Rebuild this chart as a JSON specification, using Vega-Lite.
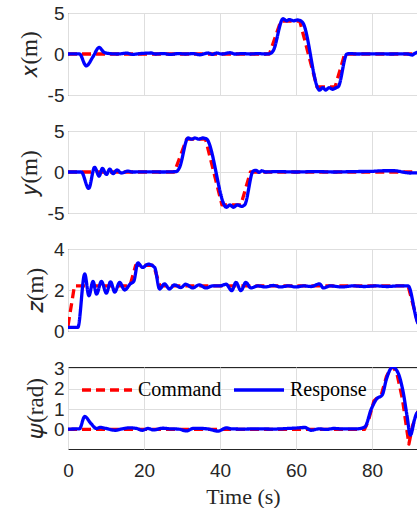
{
  "$schema": "https://vega.github.io/schema/vega-lite/v6.json",
  "autosize": {"type": "pad"},
  "padding": {"left": 17, "top": 3, "right": 0, "bottom": 0},
  "background": "white",
  "data": {
    "values": [
      {"p": "x", "s": "Command", "t": 0, "v": 0}, {"p": "x", "s": "Command", "t": 53, "v": 0}, {"p": "x", "s": "Command", "t": 56, "v": 4},
      {"p": "x", "s": "Command", "t": 61, "v": 4}, {"p": "x", "s": "Command", "t": 65.5, "v": -4}, {"p": "x", "s": "Command", "t": 70.3, "v": -4},
      {"p": "x", "s": "Command", "t": 72.8, "v": 0}, {"p": "x", "s": "Command", "t": 92.1, "v": 0},

      {"p": "x", "s": "Response", "t": 0, "v": 0}, {"p": "x", "s": "Response", "t": 3, "v": 0.02}, {"p": "x", "s": "Response", "t": 4.8, "v": -1.45},
      {"p": "x", "s": "Response", "t": 6.5, "v": -0.4}, {"p": "x", "s": "Response", "t": 8.2, "v": 0.8}, {"p": "x", "s": "Response", "t": 9.5, "v": 0.2},
      {"p": "x", "s": "Response", "t": 11, "v": 0.05}, {"p": "x", "s": "Response", "t": 13, "v": 0}, {"p": "x", "s": "Response", "t": 15.4, "v": 0.1},
      {"p": "x", "s": "Response", "t": 17, "v": -0.05}, {"p": "x", "s": "Response", "t": 19, "v": 0.05}, {"p": "x", "s": "Response", "t": 21.9, "v": 0.12},
      {"p": "x", "s": "Response", "t": 23, "v": 0}, {"p": "x", "s": "Response", "t": 25, "v": 0.05}, {"p": "x", "s": "Response", "t": 27, "v": -0.05},
      {"p": "x", "s": "Response", "t": 29, "v": 0.05}, {"p": "x", "s": "Response", "t": 31, "v": 0}, {"p": "x", "s": "Response", "t": 33, "v": 0.05},
      {"p": "x", "s": "Response", "t": 34.7, "v": -0.1}, {"p": "x", "s": "Response", "t": 36, "v": 0.05}, {"p": "x", "s": "Response", "t": 36.9, "v": 0.12},
      {"p": "x", "s": "Response", "t": 38, "v": -0.05}, {"p": "x", "s": "Response", "t": 39.1, "v": 0.12}, {"p": "x", "s": "Response", "t": 40.5, "v": 0},
      {"p": "x", "s": "Response", "t": 42.6, "v": 0.15}, {"p": "x", "s": "Response", "t": 44, "v": 0}, {"p": "x", "s": "Response", "t": 46, "v": 0.05},
      {"p": "x", "s": "Response", "t": 48, "v": 0}, {"p": "x", "s": "Response", "t": 50, "v": 0.05}, {"p": "x", "s": "Response", "t": 52, "v": 0},
      {"p": "x", "s": "Response", "t": 53.1, "v": 0.05}, {"p": "x", "s": "Response", "t": 54, "v": 0.4}, {"p": "x", "s": "Response", "t": 56.6, "v": 4.3},
      {"p": "x", "s": "Response", "t": 57.5, "v": 4.05}, {"p": "x", "s": "Response", "t": 58.3, "v": 4.2}, {"p": "x", "s": "Response", "t": 59.3, "v": 4.05},
      {"p": "x", "s": "Response", "t": 60.4, "v": 4.15}, {"p": "x", "s": "Response", "t": 61.4, "v": 4.0}, {"p": "x", "s": "Response", "t": 61.8, "v": 3.8},
      {"p": "x", "s": "Response", "t": 66.2, "v": -4.4}, {"p": "x", "s": "Response", "t": 67.1, "v": -4.1}, {"p": "x", "s": "Response", "t": 67.8, "v": -4.4},
      {"p": "x", "s": "Response", "t": 68.7, "v": -4.1}, {"p": "x", "s": "Response", "t": 69.6, "v": -4.3}, {"p": "x", "s": "Response", "t": 70.6, "v": -4.1},
      {"p": "x", "s": "Response", "t": 71.1, "v": -4.0}, {"p": "x", "s": "Response", "t": 73.4, "v": 0}, {"p": "x", "s": "Response", "t": 74.5, "v": 0.05},
      {"p": "x", "s": "Response", "t": 76, "v": 0}, {"p": "x", "s": "Response", "t": 80, "v": 0.02}, {"p": "x", "s": "Response", "t": 85, "v": 0},
      {"p": "x", "s": "Response", "t": 88, "v": 0.02}, {"p": "x", "s": "Response", "t": 89.5, "v": 0}, {"p": "x", "s": "Response", "t": 90.5, "v": -0.12},
      {"p": "x", "s": "Response", "t": 91.2, "v": 0.05}, {"p": "x", "s": "Response", "t": 92.1, "v": 0.25},

      {"p": "y", "s": "Command", "t": 0, "v": 0}, {"p": "y", "s": "Command", "t": 28, "v": 0}, {"p": "y", "s": "Command", "t": 31.2, "v": 4},
      {"p": "y", "s": "Command", "t": 36.2, "v": 4}, {"p": "y", "s": "Command", "t": 40.5, "v": -4}, {"p": "y", "s": "Command", "t": 45.5, "v": -4},
      {"p": "y", "s": "Command", "t": 48, "v": 0}, {"p": "y", "s": "Command", "t": 92.1, "v": 0},

      {"p": "y", "s": "Response", "t": 0, "v": 0}, {"p": "y", "s": "Response", "t": 3.5, "v": 0}, {"p": "y", "s": "Response", "t": 5.45, "v": -2.0},
      {"p": "y", "s": "Response", "t": 7.0, "v": 0.57}, {"p": "y", "s": "Response", "t": 8.2, "v": -0.5}, {"p": "y", "s": "Response", "t": 9.05, "v": 0.45},
      {"p": "y", "s": "Response", "t": 10.1, "v": -0.3}, {"p": "y", "s": "Response", "t": 11, "v": 0.35}, {"p": "y", "s": "Response", "t": 11.85, "v": -0.2},
      {"p": "y", "s": "Response", "t": 12.9, "v": 0.25}, {"p": "y", "s": "Response", "t": 14, "v": -0.12}, {"p": "y", "s": "Response", "t": 15.8, "v": 0.1},
      {"p": "y", "s": "Response", "t": 17, "v": 0}, {"p": "y", "s": "Response", "t": 20, "v": 0.02}, {"p": "y", "s": "Response", "t": 25, "v": 0},
      {"p": "y", "s": "Response", "t": 28.5, "v": 0.05}, {"p": "y", "s": "Response", "t": 29.3, "v": 0.5}, {"p": "y", "s": "Response", "t": 31.6, "v": 4.15},
      {"p": "y", "s": "Response", "t": 32.5, "v": 4.0}, {"p": "y", "s": "Response", "t": 33.4, "v": 4.15}, {"p": "y", "s": "Response", "t": 34.4, "v": 4.0},
      {"p": "y", "s": "Response", "t": 35.4, "v": 4.15}, {"p": "y", "s": "Response", "t": 36.4, "v": 4.05}, {"p": "y", "s": "Response", "t": 41.7, "v": -4.3},
      {"p": "y", "s": "Response", "t": 42.6, "v": -4.0}, {"p": "y", "s": "Response", "t": 43.5, "v": -4.3}, {"p": "y", "s": "Response", "t": 44.6, "v": -4.0},
      {"p": "y", "s": "Response", "t": 45.6, "v": -4.2}, {"p": "y", "s": "Response", "t": 46.5, "v": -4.0}, {"p": "y", "s": "Response", "t": 48.7, "v": 0.1},
      {"p": "y", "s": "Response", "t": 49.5, "v": 0.2}, {"p": "y", "s": "Response", "t": 50.3, "v": -0.05}, {"p": "y", "s": "Response", "t": 51, "v": 0.15},
      {"p": "y", "s": "Response", "t": 52, "v": 0}, {"p": "y", "s": "Response", "t": 55, "v": 0.05}, {"p": "y", "s": "Response", "t": 60, "v": 0},
      {"p": "y", "s": "Response", "t": 65, "v": 0.05}, {"p": "y", "s": "Response", "t": 70, "v": 0}, {"p": "y", "s": "Response", "t": 75, "v": 0.05},
      {"p": "y", "s": "Response", "t": 80, "v": 0.08}, {"p": "y", "s": "Response", "t": 83, "v": 0.15}, {"p": "y", "s": "Response", "t": 86, "v": 0.15},
      {"p": "y", "s": "Response", "t": 88, "v": 0}, {"p": "y", "s": "Response", "t": 89.9, "v": -0.12}, {"p": "y", "s": "Response", "t": 92.1, "v": -0.1},

      {"p": "z", "s": "Command", "t": 0, "v": 0.25}, {"p": "z", "s": "Command", "t": 1.7, "v": 2.2}, {"p": "z", "s": "Command", "t": 16.3, "v": 2.2},
      {"p": "z", "s": "Command", "t": 17.8, "v": 3.2}, {"p": "z", "s": "Command", "t": 22.5, "v": 3.2}, {"p": "z", "s": "Command", "t": 24.2, "v": 2.2},
      {"p": "z", "s": "Command", "t": 89.5, "v": 2.2}, {"p": "z", "s": "Command", "t": 92.1, "v": 0.35},

      {"p": "z", "s": "Response", "t": 0, "v": 0.18}, {"p": "z", "s": "Response", "t": 2.6, "v": 0.18}, {"p": "z", "s": "Response", "t": 4.4, "v": 2.78},
      {"p": "z", "s": "Response", "t": 5.5, "v": 1.72}, {"p": "z", "s": "Response", "t": 6.6, "v": 2.42}, {"p": "z", "s": "Response", "t": 7.5, "v": 1.8},
      {"p": "z", "s": "Response", "t": 8.8, "v": 2.42}, {"p": "z", "s": "Response", "t": 10.1, "v": 1.85}, {"p": "z", "s": "Response", "t": 11.2, "v": 2.4},
      {"p": "z", "s": "Response", "t": 12.3, "v": 1.9}, {"p": "z", "s": "Response", "t": 13.6, "v": 2.37}, {"p": "z", "s": "Response", "t": 14.9, "v": 2.0},
      {"p": "z", "s": "Response", "t": 16.4, "v": 2.3}, {"p": "z", "s": "Response", "t": 17.3, "v": 2.42}, {"p": "z", "s": "Response", "t": 18.4, "v": 3.32},
      {"p": "z", "s": "Response", "t": 19.6, "v": 3.1}, {"p": "z", "s": "Response", "t": 21.1, "v": 3.26}, {"p": "z", "s": "Response", "t": 22.8, "v": 3.1},
      {"p": "z", "s": "Response", "t": 24.1, "v": 2.05}, {"p": "z", "s": "Response", "t": 25.4, "v": 2.3}, {"p": "z", "s": "Response", "t": 26.7, "v": 2.05},
      {"p": "z", "s": "Response", "t": 28, "v": 2.25}, {"p": "z", "s": "Response", "t": 29.7, "v": 2.12}, {"p": "z", "s": "Response", "t": 31, "v": 2.28},
      {"p": "z", "s": "Response", "t": 32.8, "v": 2.1}, {"p": "z", "s": "Response", "t": 34.5, "v": 2.25}, {"p": "z", "s": "Response", "t": 36.3, "v": 2.1},
      {"p": "z", "s": "Response", "t": 38, "v": 2.2}, {"p": "z", "s": "Response", "t": 40, "v": 2.2}, {"p": "z", "s": "Response", "t": 41.6, "v": 2.28},
      {"p": "z", "s": "Response", "t": 43.1, "v": 1.97}, {"p": "z", "s": "Response", "t": 44.2, "v": 2.37}, {"p": "z", "s": "Response", "t": 45.5, "v": 1.97},
      {"p": "z", "s": "Response", "t": 46.8, "v": 2.37}, {"p": "z", "s": "Response", "t": 48.1, "v": 2.1}, {"p": "z", "s": "Response", "t": 49.9, "v": 2.2},
      {"p": "z", "s": "Response", "t": 52, "v": 2.15}, {"p": "z", "s": "Response", "t": 54, "v": 2.22}, {"p": "z", "s": "Response", "t": 56, "v": 2.15},
      {"p": "z", "s": "Response", "t": 58, "v": 2.2}, {"p": "z", "s": "Response", "t": 60, "v": 2.15}, {"p": "z", "s": "Response", "t": 62, "v": 2.2},
      {"p": "z", "s": "Response", "t": 64, "v": 2.17}, {"p": "z", "s": "Response", "t": 66.2, "v": 2.3}, {"p": "z", "s": "Response", "t": 67.2, "v": 2.1},
      {"p": "z", "s": "Response", "t": 69, "v": 2.2}, {"p": "z", "s": "Response", "t": 72, "v": 2.15}, {"p": "z", "s": "Response", "t": 75, "v": 2.2},
      {"p": "z", "s": "Response", "t": 78, "v": 2.17}, {"p": "z", "s": "Response", "t": 81, "v": 2.2}, {"p": "z", "s": "Response", "t": 84, "v": 2.17},
      {"p": "z", "s": "Response", "t": 87, "v": 2.2}, {"p": "z", "s": "Response", "t": 89.5, "v": 2.2}, {"p": "z", "s": "Response", "t": 91.7, "v": 0.58},
      {"p": "z", "s": "Response", "t": 92.1, "v": 0.35},

      {"p": "psi", "s": "Command", "t": 0, "v": 0}, {"p": "psi", "s": "Command", "t": 78, "v": 0}, {"p": "psi", "s": "Command", "t": 79, "v": 0.4},
      {"p": "psi", "s": "Command", "t": 80.5, "v": 1.4}, {"p": "psi", "s": "Command", "t": 82.5, "v": 1.75}, {"p": "psi", "s": "Command", "t": 83.8, "v": 2.6},
      {"p": "psi", "s": "Command", "t": 85.2, "v": 3.14}, {"p": "psi", "s": "Command", "t": 86.5, "v": 2.8}, {"p": "psi", "s": "Command", "t": 88, "v": 1.5},
      {"p": "psi", "s": "Command", "t": 89.7, "v": -0.72}, {"p": "psi", "s": "Command", "t": 90.7, "v": 0.2}, {"p": "psi", "s": "Command", "t": 92.1, "v": 0.9},

      {"p": "psi", "s": "Response", "t": 0, "v": 0.02}, {"p": "psi", "s": "Response", "t": 3, "v": 0.03}, {"p": "psi", "s": "Response", "t": 4.4, "v": 0.64},
      {"p": "psi", "s": "Response", "t": 6, "v": 0.3}, {"p": "psi", "s": "Response", "t": 7.5, "v": 0.05}, {"p": "psi", "s": "Response", "t": 8.5, "v": 0.1},
      {"p": "psi", "s": "Response", "t": 10, "v": 0.05}, {"p": "psi", "s": "Response", "t": 12.4, "v": -0.04}, {"p": "psi", "s": "Response", "t": 14, "v": 0.02},
      {"p": "psi", "s": "Response", "t": 16.1, "v": 0.08}, {"p": "psi", "s": "Response", "t": 18, "v": 0.05}, {"p": "psi", "s": "Response", "t": 19.6, "v": -0.04},
      {"p": "psi", "s": "Response", "t": 21, "v": 0.05}, {"p": "psi", "s": "Response", "t": 22.5, "v": -0.02}, {"p": "psi", "s": "Response", "t": 24.9, "v": 0.06},
      {"p": "psi", "s": "Response", "t": 27, "v": 0.03}, {"p": "psi", "s": "Response", "t": 29, "v": 0.02}, {"p": "psi", "s": "Response", "t": 31.2, "v": -0.07},
      {"p": "psi", "s": "Response", "t": 33, "v": 0.05}, {"p": "psi", "s": "Response", "t": 35, "v": 0.05}, {"p": "psi", "s": "Response", "t": 37, "v": 0.02},
      {"p": "psi", "s": "Response", "t": 39.5, "v": -0.08}, {"p": "psi", "s": "Response", "t": 41.7, "v": 0.08}, {"p": "psi", "s": "Response", "t": 43, "v": 0.03},
      {"p": "psi", "s": "Response", "t": 46, "v": 0.02}, {"p": "psi", "s": "Response", "t": 50, "v": 0.03}, {"p": "psi", "s": "Response", "t": 54, "v": 0.02},
      {"p": "psi", "s": "Response", "t": 58, "v": 0.05}, {"p": "psi", "s": "Response", "t": 60, "v": 0.07}, {"p": "psi", "s": "Response", "t": 62.3, "v": 0.1},
      {"p": "psi", "s": "Response", "t": 64, "v": -0.04}, {"p": "psi", "s": "Response", "t": 66, "v": 0.03}, {"p": "psi", "s": "Response", "t": 68, "v": 0},
      {"p": "psi", "s": "Response", "t": 70, "v": 0.05}, {"p": "psi", "s": "Response", "t": 72, "v": 0.03}, {"p": "psi", "s": "Response", "t": 75.9, "v": 0.03},
      {"p": "psi", "s": "Response", "t": 78.1, "v": 0.12}, {"p": "psi", "s": "Response", "t": 79.8, "v": 1.0}, {"p": "psi", "s": "Response", "t": 81.2, "v": 1.5},
      {"p": "psi", "s": "Response", "t": 82.7, "v": 1.7}, {"p": "psi", "s": "Response", "t": 83.8, "v": 2.48}, {"p": "psi", "s": "Response", "t": 85.4, "v": 3.07},
      {"p": "psi", "s": "Response", "t": 86.8, "v": 2.8}, {"p": "psi", "s": "Response", "t": 88.2, "v": 1.83}, {"p": "psi", "s": "Response", "t": 89.2, "v": 0.68},
      {"p": "psi", "s": "Response", "t": 90.1, "v": -0.28}, {"p": "psi", "s": "Response", "t": 91.2, "v": 0.5}, {"p": "psi", "s": "Response", "t": 91.7, "v": 0.77},
      {"p": "psi", "s": "Response", "t": 92.1, "v": 0.85}
    ]
  },
  "spacing": 36,
  "bounds": "flush",
  "resolve": {
    "scale": {"color": "independent", "strokeDash": "independent"},
    "legend": {"color": "independent", "strokeDash": "independent"}
  },
  "vconcat": [
    {
      "width": 350,
      "height": 82,
      "transform": [{"filter": "datum.p == 'x'"}],
      "encoding": {
        "x": {"field": "t", "type": "quantitative", "scale": {"domain": [0, 92.1], "nice": false},
              "axis": {"values": [0, 20, 40, 60, 80], "labels": false, "title": null}},
        "y": {"field": "v", "type": "quantitative", "scale": {"domain": [-5, 5], "nice": false},
              "axis": {"values": [-5, 0, 5], "title": "𝑥(m)", "labelExpr": "'' + datum.value"}},
        "color": {"field": "s", "type": "nominal", "scale": {"domain": ["Command", "Response"], "range": ["#ff0000", "#0000ff"]}, "legend": null},
        "strokeDash": {"field": "s", "type": "nominal", "scale": {"domain": ["Command", "Response"], "range": [[9, 5], [1, 0]]}, "legend": null}
      },
      "layer": [
        {"transform": [{"filter": "datum.s == 'Command'"}], "mark": {"type": "line", "strokeWidth": 3.3, "clip": true}},
        {"transform": [{"filter": "datum.s == 'Response'"}], "mark": {"type": "line", "strokeWidth": 3.3, "clip": true, "interpolate": "monotone"}}
      ]
    },
    {
      "width": 350,
      "height": 82,
      "transform": [{"filter": "datum.p == 'y'"}],
      "encoding": {
        "x": {"field": "t", "type": "quantitative", "scale": {"domain": [0, 92.1], "nice": false},
              "axis": {"values": [0, 20, 40, 60, 80], "labels": false, "title": null}},
        "y": {"field": "v", "type": "quantitative", "scale": {"domain": [-5, 5], "nice": false},
              "axis": {"values": [-5, 0, 5], "title": "𝑦(m)", "labelExpr": "'' + datum.value"}},
        "color": {"field": "s", "type": "nominal", "scale": {"domain": ["Command", "Response"], "range": ["#ff0000", "#0000ff"]}, "legend": null},
        "strokeDash": {"field": "s", "type": "nominal", "scale": {"domain": ["Command", "Response"], "range": [[9, 5], [1, 0]]}, "legend": null}
      },
      "layer": [
        {"transform": [{"filter": "datum.s == 'Command'"}], "mark": {"type": "line", "strokeWidth": 3.3, "clip": true}},
        {"transform": [{"filter": "datum.s == 'Response'"}], "mark": {"type": "line", "strokeWidth": 3.3, "clip": true, "interpolate": "monotone"}}
      ]
    },
    {
      "width": 350,
      "height": 82,
      "transform": [{"filter": "datum.p == 'z'"}],
      "encoding": {
        "x": {"field": "t", "type": "quantitative", "scale": {"domain": [0, 92.1], "nice": false},
              "axis": {"values": [0, 20, 40, 60, 80], "labels": false, "title": null}},
        "y": {"field": "v", "type": "quantitative", "scale": {"domain": [0, 4], "nice": false},
              "axis": {"values": [0, 2, 4], "title": "𝑧(m)"}},
        "color": {"field": "s", "type": "nominal", "scale": {"domain": ["Command", "Response"], "range": ["#ff0000", "#0000ff"]}, "legend": null},
        "strokeDash": {"field": "s", "type": "nominal", "scale": {"domain": ["Command", "Response"], "range": [[9, 5], [1, 0]]}, "legend": null}
      },
      "layer": [
        {"transform": [{"filter": "datum.s == 'Command'"}], "mark": {"type": "line", "strokeWidth": 3.3, "clip": true}},
        {"transform": [{"filter": "datum.s == 'Response'"}], "mark": {"type": "line", "strokeWidth": 3.3, "clip": true, "interpolate": "monotone"}}
      ]
    },
    {
      "width": 350,
      "height": 82,
      "transform": [{"filter": "datum.p == 'psi'"}],
      "encoding": {
        "x": {"field": "t", "type": "quantitative", "scale": {"domain": [0, 92.1], "nice": false},
              "axis": {"values": [0, 20, 40, 60, 80], "title": "Time (s)", "labelFlush": false, "labelPadding": 12, "titlePadding": 6, "titleFontSize": 22}},
        "y": {"field": "v", "type": "quantitative", "scale": {"domain": [-0.96, 3.07], "nice": false},
              "axis": {"values": [0, 1, 2, 3], "title": "𝜓(rad)"}},
        "color": {"field": "s", "type": "nominal", "scale": {"domain": ["Command", "Response"], "range": ["#ff0000", "#0000ff"]},
                  "legend": {"title": null, "orient": "none", "legendX": 12, "legendY": -4, "direction": "horizontal", "symbolType": "stroke", "symbolSize": 2500, "symbolStrokeWidth": 3.3, "labelFont": "Liberation Serif", "labelFontSize": 20, "labelColor": "#000000", "labelOffset": 4, "columnPadding": 10, "padding": 0}},
        "strokeDash": {"field": "s", "type": "nominal", "scale": {"domain": ["Command", "Response"], "range": [[9, 5], [1, 0]]},
                  "legend": {"title": null, "orient": "none", "legendX": 12, "legendY": -4, "direction": "horizontal", "symbolType": "stroke", "symbolSize": 2500, "symbolStrokeWidth": 3.3, "labelFont": "Liberation Serif", "labelFontSize": 20, "labelColor": "#000000", "labelOffset": 4, "columnPadding": 10, "padding": 0}}
      },
      "layer": [
        {"transform": [{"filter": "datum.s == 'Command'"}], "mark": {"type": "line", "strokeWidth": 3.3, "clip": true}},
        {"transform": [{"filter": "datum.s == 'Response'"}], "mark": {"type": "line", "strokeWidth": 3.3, "clip": true, "interpolate": "monotone"}}
      ]
    }
  ],
  "config": {
    "view": {"stroke": "#262626", "strokeWidth": 1},
    "axis": {
      "domain": false,
      "ticks": false,
      "grid": true,
      "gridColor": "#dedede",
      "labelFont": "Liberation Sans",
      "labelFontSize": 19,
      "labelColor": "#262626",
      "titleFont": "Liberation Serif",
      "titleFontSize": 23,
      "titleFontWeight": "normal",
      "titleColor": "#262626"
    },
    "axisY": {"labelPadding": 4, "titlePadding": 6},
    "line": {"strokeCap": "butt", "strokeJoin": "round"}
  }
}
